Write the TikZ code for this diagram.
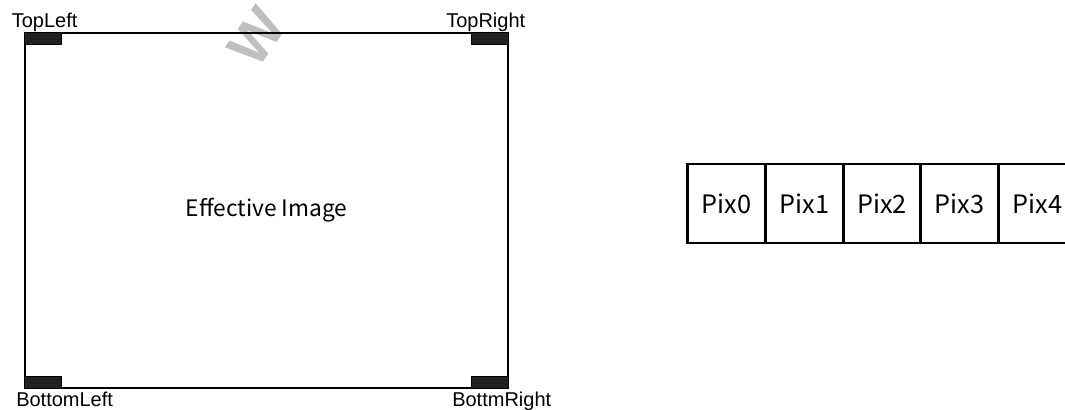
\documentclass[tikz,border=0pt]{standalone}
\usepackage{fontspec}
\setmainfont{Liberation Sans}
\newfontfamily\jpfont{Noto Sans CJK JP}
\usetikzlibrary{positioning}

\tikzset{
  cornerlabel/.style={anchor=base west, inner sep=0pt, font=\fontsize{15}{18}\selectfont},
  cornerblock/.style={fill=black!87, draw=black, line width=0.5pt},
  pixcell/.style={draw, line width=2.2pt, outer sep=0pt, minimum width=58.3pt, minimum height=59.2pt,
    font=\jpfont\fontsize{19}{22}\selectfont},
}

\begin{document}
\begin{tikzpicture}[x=0.75pt,y=0.75pt,yscale=-1,xscale=1]
\useasboundingbox (0,0) rectangle (1065,410);

% watermark
\node[text=black!25, inner sep=0pt, font=\bfseries\fontsize{43}{45}\selectfont, rotate=55] (wmark) at (257,37) {W};

% Effective image frame
\node[draw, line width=1pt, minimum width=362.3pt, minimum height=266.3pt, font=\jpfont\fontsize{17}{20}\selectfont] (img) at (266.5,210.5) {Effective Image};

% corner blocks
\draw [cornerblock] (img.north west) rectangle ++(37,12) ;
\draw [cornerblock] (img.north east) rectangle ++(-37,12) ;
\draw [cornerblock] (img.south west) rectangle ++(37,-12) ;
\draw [cornerblock] (img.south east) rectangle ++(-37,-12) ;

% Text Node
\node [cornerlabel] (tl) at (11.5,27.3) {TopLeft};
% Text Node
\node [cornerlabel] (tr) at (446,27.3) {TopRight};
% Text Node
\node [cornerlabel] (bl) at (16,406.7) {BottomLeft};
% Text Node
\node [cornerlabel] (br) at (452,406.7) {BottmRight};

% pixel row
\node [pixcell] (pix0) at (726.5,203.5) {Pix0};
\node [pixcell, right=0pt of pix0] (pix1) {Pix1};
\node [pixcell, right=0pt of pix1] (pix2) {Pix2};
\node [pixcell, right=0pt of pix2] (pix3) {Pix3};
\node [pixcell, right=0pt of pix3] (pix4) {Pix4};

\end{tikzpicture}
\end{document}
